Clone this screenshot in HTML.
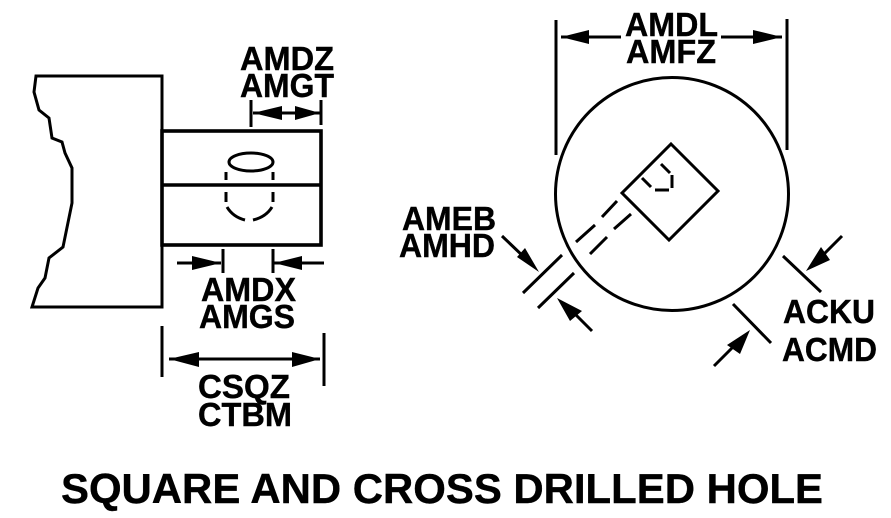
<!DOCTYPE html>
<html>
<head>
<meta charset="utf-8">
<style>
html,body{margin:0;padding:0;background:#fff;width:891px;height:518px;overflow:hidden}
svg{display:block}
text{font-family:"Liberation Sans",Arial,sans-serif;font-weight:bold;fill:#000;stroke:#000;stroke-width:.4px;font-size:33px}
.l{fill:none;stroke:#000;stroke-width:3}
.b{fill:none;stroke:#000;stroke-width:3.6}
.t{fill:none;stroke:#000;stroke-width:3}
.h{fill:#000;stroke:none}
</style>
</head>
<body>
<svg width="891" height="518" viewBox="0 0 891 518" xmlns="http://www.w3.org/2000/svg">
<rect width="891" height="518" fill="#fff"/>

<!-- left block -->
<path class="l" d="M162 131V76H36L34 92L39 110L49 118L52 138L62 142L65 153L72 168L72 203L63 247L49 258L45 278L38 288L32 307H162V245"/>
<rect class="b" x="162" y="131" width="159" height="114"/>
<path class="b" d="M162 185H321"/>
<ellipse class="t" cx="251" cy="162" rx="22" ry="9"/>
<path class="t" d="M226 172V180M273 172V180M226 192V202M273 192V202M227 207Q233 217 245 220M253 220Q266 217 272 207"/>

<!-- AMDZ dim -->
<path class="l" d="M251 100V127M321 100V125M253 113H320"/>
<path class="h" d="M253 113L282 106V120ZM320 113L295 106V120Z"/>

<!-- AMDX dim -->
<path class="l" d="M223 249V273M273 249V273M177 263H221M274 263H324"/>
<path class="h" d="M221 263L192 256V270ZM274 263L302 256V270Z"/>

<!-- CSQZ dim -->
<path class="l" d="M162 326V377M324 333V386M169 359H320"/>
<path class="h" d="M169 359L199 352V367ZM320 359L292 352V367Z"/>

<!-- circle -->
<circle class="l" cx="672" cy="194" r="116.5"/>
<path class="l" d="M556 20V155M787 19V150M561 37H621M721 37H782"/>
<path class="h" d="M561 37L589 30V44ZM782 37L753 30V44Z"/>

<!-- square -->
<path class="t" d="M671 144L718 191L669 240L622 193Z"/>
<path class="t" d="M642 178L651 187M655 190H669M672 175V188M661 164L670 173"/>
<path class="t" d="M617 201L602 217M595 225L576 242M631 214L614 229M607 237L590 254"/>

<!-- AMEB dim -->
<path class="l" d="M562 255L523 293M574 273L538 308"/>
<path class="l" d="M502 236L525 258M592 331L570 309"/>
<path class="h" d="M539 272L525 248L517 257ZM557 298L582 311L570 321Z"/>

<!-- ACKU dim -->
<path class="l" d="M783 256L821 292M733 304L771 343"/>
<path class="l" d="M842 236L822 256M714 366L734 346"/>
<path class="h" d="M806 271L821 247L830 260ZM750 330L727 345L740 354Z"/>

<!-- labels -->
<text x="240" y="70" textLength="94" lengthAdjust="spacingAndGlyphs">AMDZ</text>
<text x="240" y="97" textLength="94" lengthAdjust="spacingAndGlyphs">AMGT</text>
<text x="201" y="301" textLength="95" lengthAdjust="spacingAndGlyphs">AMDX</text>
<text x="199" y="328" textLength="96" lengthAdjust="spacingAndGlyphs">AMGS</text>
<text x="198" y="398" textLength="92" lengthAdjust="spacingAndGlyphs">CSQZ</text>
<text x="198" y="426" textLength="94" lengthAdjust="spacingAndGlyphs">CTBM</text>
<text x="625" y="36" textLength="93" lengthAdjust="spacingAndGlyphs">AMDL</text>
<text x="626" y="63" textLength="90" lengthAdjust="spacingAndGlyphs">AMFZ</text>
<text x="402" y="230" textLength="94" lengthAdjust="spacingAndGlyphs">AMEB</text>
<text x="399" y="257" textLength="96" lengthAdjust="spacingAndGlyphs">AMHD</text>
<text x="783" y="323" textLength="92" lengthAdjust="spacingAndGlyphs">ACKU</text>
<text x="782" y="361" textLength="95" lengthAdjust="spacingAndGlyphs">ACMD</text>
<text x="61" y="503" style="font-size:42px" textLength="762" lengthAdjust="spacingAndGlyphs">SQUARE AND CROSS DRILLED HOLE</text>
</svg>
</body>
</html>
